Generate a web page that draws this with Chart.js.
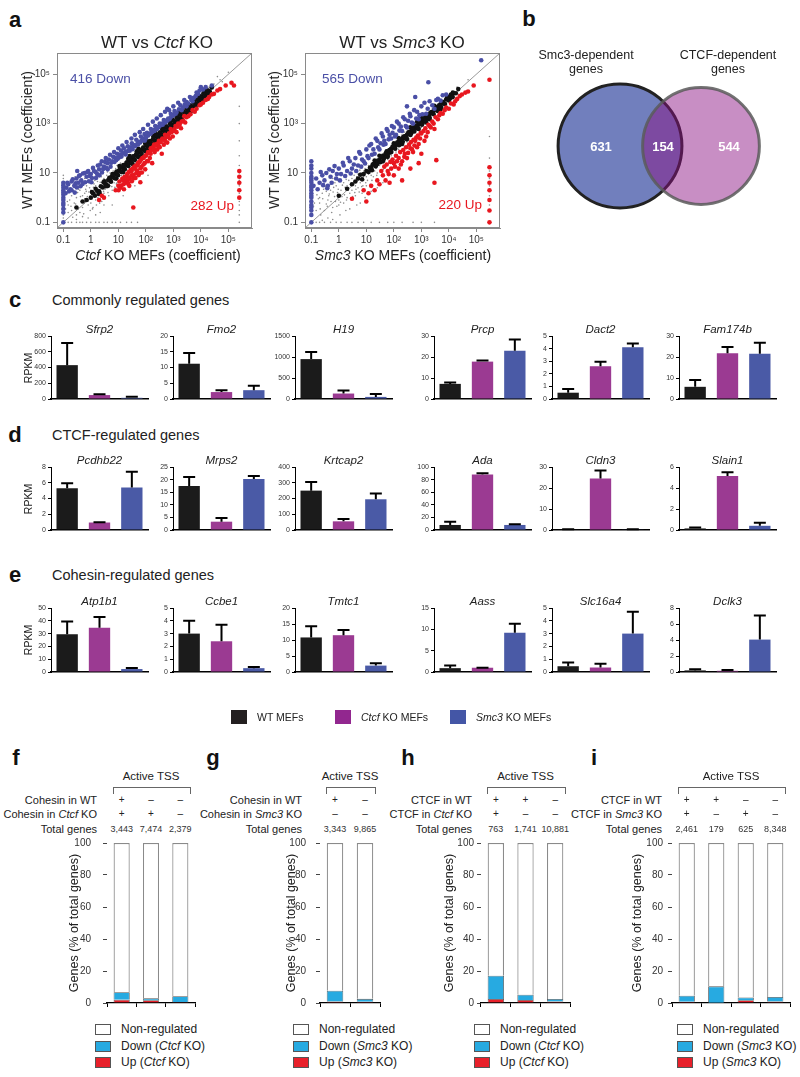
<!DOCTYPE html>
<html><head><meta charset="utf-8">
<script src="https://cdn.jsdelivr.net/npm/chart.js@4/dist/chart.umd.min.js"></script>
<style>
body{margin:0;width:800px;height:1077px;position:relative;background:#fff;font-family:"Liberation Sans",Arial,sans-serif;color:#222;overflow:hidden}
.t{position:absolute;white-space:nowrap;line-height:1}
.c{transform:translate(-50%,-50%)}
.r{transform:translate(-100%,-50%)}
.l{transform:translate(0,-50%)}
.v{transform:translate(-50%,-50%) rotate(-90deg)}
canvas{position:absolute}
.pl{font-weight:bold;font-size:22px;color:#111}
.box{position:absolute}
</style></head><body>
<script>
// ---------------- DATA ----------------
// panel a: scatter (x = KO coefficient, y = WT coefficient)
const axisMin = 0.0589, axisMax = 724000;
const xTickVals = [0.1,1,10,100,1000,10000,100000];
const xTickLabels = ['0.1','1','10','10²','10³','10⁴','10⁵'];
const yTickVals = [0.1,10,1000,100000];
const yTickLabels = ['0.1','10','10³','10⁵'];

const ctcfDown = [[0.1,0.1],[0.1,0.25],[0.1,0.35],[0.1,0.5],[0.1,0.6],[0.1,0.8],[0.1,1],[0.1,1.3],[0.1,1.6],[0.1,2],[0.1,2.5],[0.1,3.2],[0.1,4],
[0.12,1.5],[0.13,2.5],[0.14,4],[0.15,3.5],[0.16,1.8],[0.18,2.2],[0.2,4.5],[0.2,2],[0.22,5.5],[0.25,3],[0.26,1.6],[0.28,3.8],[0.3,6],[0.31,2.6],[0.32,12],[0.35,4],[0.37,7.5],[0.4,8],[0.42,2.9],[0.45,5],[0.5,3.6],[0.52,9.5],[0.6,10],[0.62,4.2],[0.7,7],[0.75,11],[0.8,12],[0.85,4.6],[0.9,7.5],
[1,9],[1.05,4.2],[1.1,6.2],[1.2,16],[1.3,12],[1.5,11],[1.55,6.3],[1.7,9],[1.8,20],[2,14],[2.05,8],[2.2,22],[2.5,30],[2.55,10.5],[2.8,14.5],[3,18],[3.3,28],[3.6,16],[3.5,40],[4,25],[4.1,14],[4.5,35],[5,55],[5.2,18],[5.5,26],[6,30],[6.5,45],[7,70],[7.2,28],[8,40],[8.3,33],[9,60],[9.5,38],
[10,100],[10.5,42],[11,55],[12,50],[12.5,80],[13,46],[14,130],[15,62],[16,100],[18,70],[18.5,56],[20,180],[21,76],[22,120],[25,90],[26,80],[28,110],[30,250],[31,160],[33,92],[35,120],[37,135],[40,350],[41,122],[45,220],[50,160],[52,143],[55,185],[60,450],[62,172],[66,300],[70,200],[75,225],[80,600],[82,250],[90,380],[92,205],[100,300],[102,265],
[110,420],[120,900],[122,330],[140,385],[150,400],[152,600],[170,455],[180,1200],[200,550],[205,505],[220,800],[250,1600],[255,610],[280,700],[300,750],[320,1000],[350,2200],[355,860],[400,1000],[410,905],[450,1400],[500,3000],[505,1110],[550,1300],[600,4000],[605,1320],[650,1600],[700,3500],[720,1500],[800,1800],[810,2500],[900,2050],[1000,5000],[1010,2200],
[1100,3200],[1200,2500],[1300,2800],[1500,7000],[1600,3800],[1800,5500],[2000,3500],[2200,4500],[2500,9000],[2600,6000],[3000,5000],[3050,7500],[3500,6500],[4000,12000],[4500,9000],[5000,8000],[5500,11000],[6500,13000],[7000,18000],[8000,16000],[9000,22000],[10000,30000],[12000,24000],[15000,30000],[25000,35000]];
const ctcfUp = [[2,0.8],[2.5,1.2],[3,1],[35,0.4],[8,2],[10,3],[10.2,2],[11,4.5],[12,2.5],[13,3.1],[14,6],[15,5],[15.5,3.5],[16,2.2],[17,7],[18,4],[19,4.8],[20,7],[21,9],[22,5],[23,3.6],[24,11],[25,3],[26,6.2],[28,13],[30,8],[30.5,12],[31,4.6],[33,15],[35,6],[36,8.2],[38,18],[40,15],[42,6.3],[44,20],[45,10],[48,12.5],[50,20],[52,25],[55,8.2],[58,28],[60,10],[60.5,30],[63,4.2],[64,15.5],[68,35],[70,18],[72,10.5],[75,40],[80,40.5],[82,22],[88,45],[90,25],[95,14],[100,50],[105,55],[110,30.5],[120,30],[121,70],[130,65],[140,40],[150,60],[151,100],[160,85],[170,25],[180,110],[200,90],[201,140],[210,70],[230,130],[250,150],[260,90],[280,160],[300,120],[301,200],[320,110],[350,180],[380,60],[400,250],[420,230],[450,140],[500,200],[501,350],[550,280],[600,170],[650,330],[700,400],[750,250],[800,600],[850,450],[950,300],[1000,500],[1100,600],[1200,800],[1300,450],[1400,750],[1500,1000],[1700,900],[1900,650],[2000,1200],[2300,1300],[2500,2000],[2700,1100],[3000,1800],[3500,2000],[4200,2400],[5000,3500],[6000,3000],[7000,4000],[9000,5500],[10000,6000],[12000,7000],[15000,9000],[18000,10000],[20000,12000],[25000,15000],[30000,16000],[40000,22000],[50000,25000],[80000,35000],[130000,45000],[160000,35000],
[250000,12],[250000,7],[250000,4],[250000,2],[250000,1]];
const ctcfMid = [[0.3,0.4],[0.5,0.7],[0.7,0.8],[1,1],[1.2,1.5],[1.4,1.2],[1.7,1.9],[2,1.8],[2.3,2.9],[2.7,2.6],[3.2,3.9],[3.7,3.4],[4.3,5.2],[5,5],[5.8,7],[6.7,6.5],[7.8,9.3],[9,8.8],[10.5,12.5],[12,11.5],[14,17],[16,15.5],[18.5,22],[21,20],[24,29],[28,27],[32,39],[37,36],[43,52],[50,48],[58,70],[67,65],[78,94],[90,88],[105,126],[120,117],[140,168],[160,155],[185,222],[210,205],[245,295],[280,272],[325,390],[370,360],[430,515],[500,485],[580,700],[670,650],[780,935],[900,875],[1050,1260],[1200,1170],[1400,1680],[1600,1560],[1850,2220],[2100,2050],[2450,2940],[2800,2720],[3250,3900],[3700,3600],[4300,5160],[5000,4850],[5800,6960],[6700,6500],[7800,9360],[9000,8750],[10500,12600],[12000,11700],[14000,16800],[16000,15500],[18500,22000],[21000,20500],[25000,29000],
[1.5,2.3],[3.1,4.6],[6.2,9.1],[11,19],[23,38],[47,75],[95,155],[190,310],[390,620],[760,1250],[1550,2500],[3100,5000],[6300,9800],[2.1,1.5],[4.2,3],[8.3,5.9],[15,11],[33,23],[62,44],[130,92],[250,178],[520,370],[1020,730],[2000,1450],[4150,2900],[8100,5800],
[26,48],[54,96],[110,190],[230,400],[450,790],[880,1500],[1800,3100],[3500,6100],[7000,11500],[14000,21000],
[1.1,1.7],[1.9,1.4],[2.9,4.2],[3.5,2.9],[4.7,6.4],[5.4,4.4],[6.3,8.7],[7.3,6.1],[8.6,11.5],[9.8,8],[11.6,15.8],[13.2,10.9],[15.2,21],[17.3,14.1],[20.4,27],[23.1,19.3],[26.7,36],[30.2,25.4],[35.4,47],[39.8,33.5],[46,62],[53,43.6],[61,84],[70.5,58],[80,108],[93.5,77],[107,147],[124,101],[141,195],[163,134],[187,255],[217,180],[249,336],[286,235],[327,448],[378,312],[433,592],[498,416],[573,778],[662,547],[757,1035],[871,727],[1006,1362],[1152,961],[1331,1803],[1524,1270],[1758,2385],[2017,1680],[2326,3155],[2668,2222],[3069,4183],[3536,2929],[4066,5520],[4669,3885],[5370,7311],[6183,5126],[7102,9668],[8176,6779],[9401,12775],[10790,8975],[12420,16880],[14280,11910],[16430,22310],[18870,15690]];
const ctcfFaint = [[0.15,0.1],[0.2,0.1],[0.3,0.1],[0.4,0.1],[0.5,0.1],[0.7,0.1],[1,0.1],[1.5,0.1],[2,0.1],[3,0.1],[4,0.1],[6,0.1],[8,0.1],[12,0.1],[20,0.1],[30,0.1],[50,0.1],
[0.1,0.15],[0.1,0.2],[0.1,0.3],[0.1,0.45],[0.1,0.7],[0.1,1.1],[0.1,1.8],[0.1,2.8],[0.1,4.5],[0.1,6],[0.1,8],
[250000,0.1],[250000,0.2],[250000,0.3],[250000,0.5],[250000,0.7],[250000,1.5],[250000,3],[250000,5],[250000,10],[250000,20],[250000,50],[250000,200],[250000,1000],[250000,5000],
[0.2,0.3],[0.3,0.2],[0.3,1],[0.5,0.4],[0.6,1.5],[0.8,0.5],[1,2],[1,0.6],[1.5,0.8],[1.5,3],[2,1.5],[3,1.5],[3,6],[4,2.5],[5,3],[5,10],[7,4],[8,15],[10,6],[12,25],[15,9],[20,35],[25,15],[40,60],[50,30],[80,130],[100,70],[200,300],[300,200],[500,700],[800,600],[2000,3000],[5000,4000],[10000,15000],[30000,40000],[50000,60000],[100000,120000],[0.15,0.5],[0.2,1.2],[0.4,2],[0.7,3],[0.25,0.6],[0.4,0.25],[0.6,0.9],[1.2,0.4],[2.5,0.7],[1.8,1],[6,2],[0.5,1.2],[1,0.9],[3,0.5],[9,4],[0.15,0.25],[0.9,2.5],[40000,80000],[60000,50000],
[0.12,0.35],[0.17,0.8],[0.22,0.16],[0.28,0.55],[0.33,1.6],[0.45,0.7],[0.55,0.22],[0.65,2.2],[0.75,1.1],[0.95,0.3],[1.1,1.4],[1.3,3.6],[1.6,0.5],[1.9,2.2],[2.2,4.2],[2.6,1.1],[3.3,2.2],[3.8,8],[4.5,1.2],[5.5,4.4],[6.5,12],[7.5,2.6],[9,20],[11,4.2],[13,8],[17,28],[19,6],[24,45],[30,12],[35,22],[45,80],[60,40],[70,110],[120,90],[150,230],[250,400],[400,300],[700,1000],[1200,900],[1500,2400],[3000,2200],[4000,6000],[7000,9000],[20000,30000],[0.18,4],[0.27,7],[0.36,2.2],[0.6,6],[0.85,1.7],[1.4,5],[2.4,7],[4,11],[0.3,0.13],[0.8,0.15],[2.2,0.25],[6,0.5],[15,1.2],[40,3],[120,8],[0.5,0.17],[1.5,0.2],
[0.14,0.7],[0.19,0.45],[0.24,1.9],[0.35,0.35],[0.42,1.1],[0.48,3],[0.58,0.6],[0.68,1.8],[0.82,0.75],[0.92,4],[1.15,0.35],[1.25,2.6],[1.45,1.6],[1.75,4.5],[2.1,0.6],[2.4,3],[2.9,1.8],[3.5,5],[4.2,1.6],[4.8,7.5],[5.8,2.8],[7,11],[8.5,3.6],[10,17],[12,5.5],[14,22],[17,9.5],[22,30],[28,18],[33,55],[42,26],[55,90],[65,48],[90,150],[110,95],[180,290],[220,160],[350,560],[450,360],[900,1400],[1800,1400],[2500,4000],[6000,5200],[12000,18000]];

const smc3Down = [[0.1,0.1],[0.1,0.3],[0.1,0.5],[0.1,0.7],[0.1,1],[0.1,1.5],[0.1,2],[0.1,3],[0.1,4],[0.1,5],[0.1,7],[0.1,10],[0.1,15],[0.1,30],[0.1,0.2],[0.1,0.4],[0.1,1.2],[0.1,2.5],[0.1,6],[0.1,20],
[0.12,3],[0.15,6],[0.17,2.2],[0.2,4],[0.22,11],[0.25,8],[0.27,3.2],[0.3,5],[0.35,10],[0.38,2.4],[0.4,3],[0.45,14],[0.5,7],[0.55,4],[0.6,12],[0.7,19],[0.8,6],[0.85,9],[1,15],[1.1,5],[1.2,9],[1.4,26],[1.5,20],[1.7,7.5],[2,12],[2.2,40],[2.5,30],[2.7,9.5],[3,15],[3.5,22],[4,40],[4.3,12],[5,20],[5.5,70],[6,60],[6.5,18],[7,35],[8,30],[9,24],[10,90],[11,48],[12,40],[13,130],[15,150],[16,55],[18,90],[20,60],[22,250],[25,200],[27,110],[30,90],[33,160],[36,400],[40,300],[42,140],[45,200],[50,150],[55,600],[60,500],[65,230],[70,350],[80,250],[85,800],[90,420],[100,700],[110,300],[120,350],[130,1200],[150,1000],[160,520],[180,750],[200,500],[220,1800],[250,1500],[270,800],[300,700],[300,5000],[330,1300],[380,2500],[400,2000],[450,1100],[500,1000],[550,3500],[600,12000],[650,1600],[700,3000],[800,1500],[850,2200],[1000,5000],[1100,2400],[1300,7000],[1500,2500],[1700,4000],[1800,47000],[2000,8000],[2500,5500],[3000,4000],[3500,9000],[4000,10000],[5000,8500],[6000,14000],[8000,15000],[150000,370000]];
const smc3Up = [[3,0.9],[10,0.7],[8,2],[12,1.5],[15,3],[20,2],[25,5],[30,3.5],[40,8],[50,5],[60,12],[70,4],[80,15],[100,8],[100,25],[150,15],[150,40],[200,5],[200,30],[250,60],[300,40],[400,15],[400,100],[500,70],[600,200],[800,25],[800,150],[1000,60],[1000,400],[1500,300],[2000,800],[3000,4],[3500,33],[3000,600],[4000,1500],[6000,2500],[10000,4000],[15000,6000],[20000,10000],[30000,15000],[50000,20000],[80000,35000],[300000,60000],
[35,12],[45,18],[55,22],[65,9],[75,28],[90,35],[110,18],[120,50],[130,30],[170,70],[180,22],[220,85],[240,45],[280,110],[330,65],[360,140],[420,180],[460,90],[520,220],[560,130],[650,270],[700,110],[750,330],[900,250],[950,420],[1200,500],[1300,200],[1400,650],[1700,450],[1800,900],[2200,700],[2500,1200],[2800,1000],[3300,1800],[4500,2200],[5000,2700],[7000,3500],[8000,4500],[12000,6500],[17000,8000],[25000,13000],[40000,18000],
[300000,17],[300000,8],[300000,4],[300000,2],[300000,0.8],[300000,0.3],[300000,0.1]];
const smc3Mid = [[1,1.2],[2,2.3],[3,3.5],[5,6],[8,9],[10,12],[15,17],[20,24],[30,33],[40,48],[50,58],[60,72],[80,95],[100,120],[120,140],[150,180],[200,240],[250,300],[300,350],[400,480],[500,580],[600,720],[800,950],[1000,1200],[1200,1450],[1500,1800],[2000,2400],[2500,3000],[3000,3600],[4000,4800],[5000,6000],[6000,7500],[8000,9500],[10000,12000],[12000,15000],[15000,17000],
[30,50],[60,45],[150,260],[300,230],[700,1200],[1500,1100],[3000,5200],[5000,3800],[100,160],[200,150],[20,32],[40,30],[1000,1700],[2000,1500],[400,700],[800,600],
[12,11],[17,22],[25,23],[35,45],[45,42],[55,75],[70,66],[90,118],[110,102],[135,175],[170,160],[220,285],[270,255],[340,440],[430,405],[540,700],[680,640],[860,1110],[1080,1020],[1350,1750],[1700,1600],[2150,2780],[2700,2550],[3400,4400],[4300,4050],[5400,7000],[6800,6400],[8600,11000],[11000,10500],[14000,18000],[18000,17000],[22000,25000],[7,5.5],[6,8.5],[4,4.5],
[13.5,16],[16,13],[18.5,23],[22,18.5],[26.5,32],[32,27],[37,44],[43,37],[51,62],[59,51],[69,84],[81,70],[95,116],[112,96],[131,160],[154,132],[181,221],[212,182],[249,304],[292,251],[343,419],[403,346],[473,577],[555,477],[652,796],[766,658],[899,1097],[1056,907],[1240,1513],[1456,1251],[1710,2086],[2008,1725],[2358,2877],[2769,2378],[3252,3967],[3819,3280],[4485,5472],[5266,4523],[6184,7544],[7262,6236],[8528,10400],[10015,8600],[11760,14350],[13810,11860]];
const smc3Faint = [[0.15,0.1],[0.2,0.1],[0.3,0.1],[0.5,0.1],[0.8,0.1],[1.2,0.1],[2,0.1],[3,0.1],[5,0.1],[8,0.1],[15,0.1],[30,0.1],[60,0.1],[100,0.1],[200,0.1],[500,0.1],[1000,0.1],[3000,0.1],
[0.1,0.2],[0.1,0.4],[0.1,0.6],[0.1,1.2],[0.1,2.5],[300000,0.5],[300000,1.2],[300000,3],[300000,6],[300000,12],[300000,40],[300000,300],
[0.15,0.3],[0.2,0.6],[0.25,1.5],[0.3,0.3],[0.4,0.8],[0.5,2],[0.6,0.4],[0.7,1.1],[0.8,3],[1,0.5],[1,0.8],[1.2,2],[1.5,0.6],[1.5,4],[2,1],[2,3],[2.5,1.5],[3,6],[3,2],[4,1.2],[4,3],[5,9],[5,2.5],[6,4],[7,1.5],[8,12],[8,5],[10,3],[10,7],[12,20],[15,8],[20,12],[20,30],[25,10],[30,20],[40,25],[50,80],[60,35],[80,50],[100,180],[150,90],[200,350],[300,180],[500,800],[1000,700],[2000,3000],[5000,8000],[10000,8000],[20000,30000],[50000,60000],[0.3,3],[0.6,6],[1.8,0.3],[6,0.6],[15,1.8],[40,4],
[0.12,0.45],[0.18,0.9],[0.22,0.2],[0.28,2.2],[0.35,0.55],[0.45,1.4],[0.55,0.25],[0.65,2.6],[0.75,0.7],[0.9,1.6],[1.1,4.5],[1.3,1.1],[1.7,2.6],[1.9,0.8],[2.3,5],[2.8,0.9],[3.4,4],[3.8,1.6],[4.5,7],[5.5,1.7],[6.5,10],[7.5,3],[9,15],[11,5],[13,11],[14,3.5],[17,25],[18,7],[23,16],[28,45],[33,12],[38,60],[45,18],[55,40],[70,100],[90,30],[120,70],[130,250],[180,120],[250,450],[350,250],[600,1000],[900,500],[1500,2500],[3000,2000],[4000,6000],[8000,12000],[0.2,1],[0.35,1.8],[0.5,3.5],[0.9,5],[1.6,7],[2.6,9],[0.4,0.15],[1.1,0.2],[2.5,0.35],[4.5,0.5],[9,1],[25,2.5],[0.25,0.12],[0.6,0.13],
[0.13,0.6],[0.16,1.3],[0.21,0.35],[0.26,0.9],[0.32,2.8],[0.38,0.45],[0.43,1.2],[0.52,0.7],[0.62,1.7],[0.72,4],[0.85,0.45],[0.95,2.2],[1.15,0.65],[1.35,3.2],[1.6,1.3],[1.85,5.5],[2.2,2],[2.7,3.5],[3.2,1.1],[3.6,8],[4.2,2.2],[5,5.5],[5.8,13],[6.8,2.8],[8,7],[9.5,4],[12,9],[14.5,14],[16,5],[19,18],[24,8],[27,22],[35,30],[42,14],[50,50],[65,25],[85,75],[110,45],[160,150],[240,120],[450,400],[700,350],[1300,1200],[2500,4000],[6000,5000]];

// panel b: Venn
const vennSets = ['Smc3-dependent genes','CTCF-dependent genes'];
const vennCounts = [631,154,544];   // Smc3 only, both, CTCF only

// panels c-e: RPKM
const groups = ['WT MEFs','Ctcf KO MEFs','Smc3 KO MEFs'];
const cGenes = ['Sfrp2','Fmo2','H19','Prcp','Dact2','Fam174b'];
const cMean = [[430,50,15],[11.2,2.2,2.8],[950,130,50],[7.2,17.8,23],[0.5,2.6,4.1],[5.8,21.8,21.5]];
const cErrTop = [[710,60,30],[14.6,2.8,4.2],[1120,200,120],[7.8,18.3,28.3],[0.8,2.95,4.4],[9,24.8,26.8]];
const cMax = [800,20,1500,30,5,30];
const cStep = [200,5,500,10,1,10];

const dGenes = ['Pcdhb22','Mrps2','Krtcap2','Ada','Cldn3','Slain1'];
const dMean = [[5.3,0.95,5.4],[17.5,3.3,20.2],[250,55,195],[8,88,8],[0.3,24.5,0.2],[0.15,5.15,0.4]];
const dErrTop = [[5.95,1.0,7.4],[21,4.8,21.4],[305,70,232],[13,90,9],[0.4,28.3,0.3],[0.25,5.5,0.7]];
const dMax = [8,25,400,100,30,6];
const dStep = [2,5,100,20,10,2];

const eGenes = ['Atp1b1','Ccbe1','Tmtc1','Aass','Slc16a4','Dclk3'];
const eMean = [[29.5,34.5,2.3],[3.0,2.4,0.3],[10.8,11.5,2.0],[0.9,1.0,9.2],[0.45,0.35,3.0],[0.2,0.15,4.05]];
const eErrTop = [[39.5,43,3.2],[4.0,3.7,0.4],[14.3,13.1,2.7],[1.5,1.0,11.3],[0.75,0.65,4.7],[0.35,0.25,7.05]];
const eMax = [50,5,20,15,5,8];
const eStep = [10,1,5,5,1,2];

// panels f-i: % of total genes
const fRow1 = ['+','–','–'], fRow2 = ['+','+','–'], fTotals = ['3,443','7,474','2,379'];
const fUp = [2.1,1.7,0.6], fDown = [4.6,1.2,3.6], fNon = [93.3,97.1,95.8];
const gRow1 = ['+','–'], gRow2 = ['–','–'], gTotals = ['3,343','9,865'];
const gUp = [1.0,0.8], gDown = [6.7,1.8], gNon = [92.3,97.4];
const hRow1 = ['+','+','–'], hRow2 = ['+','–','–'], hTotals = ['763','1,741','10,881'];
const hUp = [2.5,1.9,1.0], hDown = [14.6,3.3,1.5], hNon = [82.9,94.8,97.5];
const iRow1 = ['+','+','–','–'], iRow2 = ['+','–','+','–'], iTotals = ['2,461','179','625','8,348'];
const iUp = [0.8,0.2,1.7,1.0], iDown = [3.8,10.2,1.8,2.75], iNon = [95.4,89.6,96.5,96.25];

// ---------------- HELPERS ----------------
Chart.defaults.font.family = '"Liberation Sans", Arial, sans-serif';
Chart.defaults.devicePixelRatio = 1;
Chart.defaults.animation = false;
Chart.defaults.responsive = false;
Chart.defaults.layout.autoPadding = false;
Chart.defaults.plugins.legend.display = false;
Chart.defaults.plugins.tooltip.enabled = false;

function T(html,x,y,cls,css){const d=document.createElement('div');d.className='t '+cls;d.innerHTML=html;d.style.left=x+'px';d.style.top=y+'px';if(css)d.style.cssText+=css;document.body.appendChild(d);return d;}
function mk(x,y,w,h){const c=document.createElement('canvas');c.width=w;c.height=h;c.style.left=x+'px';c.style.top=y+'px';c.style.width=w+'px';c.style.height=h+'px';document.body.appendChild(c);return c;}
const pts = a => a.map(p=>({x:p[0],y:p[1]}));
const fixV = w => s => {s.width=w;s.paddingTop=0;s.paddingBottom=0;};
const fixH = h => s => {s.height=h;s.paddingLeft=0;s.paddingRight=0;};

// ---------------- PANEL LABELS ----------------
T('a',15,20,'c pl');T('b',529,19,'c pl');T('c',15,300,'c pl');T('d',15,435,'c pl');T('e',15,575,'c pl');
T('f',16,758,'c pl');T('g',213,758,'c pl');T('h',408,758,'c pl');T('i',594,758,'c pl');

// ---------------- PANEL a ----------------
const boxPlugin = {id:'box',afterDraw(ch){const a=ch.chartArea,ctx=ch.ctx;ctx.save();ctx.strokeStyle='#8a8a8a';ctx.lineWidth=1;ctx.strokeRect(a.left+0.5,a.top+0.5,a.right-a.left-1,a.bottom-a.top-1);ctx.restore();}};
function scatter(left, down, up, mid, faint){
  const cv = mk(left,45,262,225);
  new Chart(cv,{type:'scatter',data:{datasets:[
    {type:'line',data:[{x:axisMin,y:axisMin},{x:axisMax,y:axisMax}],borderColor:'#9a9a9a',borderWidth:1,pointRadius:0,order:5},
    {data:pts(faint),pointRadius:0.8,backgroundColor:'#8c8c8c',borderWidth:0,order:4},
    {data:pts(mid),pointRadius:2.3,backgroundColor:'#111',borderWidth:0,order:3},
    {data:pts(down),pointRadius:2.3,backgroundColor:'#4a4fa6',borderWidth:0,order:2},
    {data:pts(up),pointRadius:2.3,backgroundColor:'#e8171f',borderWidth:0,order:1}
  ]},options:{layout:{padding:{top:8,right:10,left:0,bottom:0}},
    scales:{
      x:{type:'logarithmic',min:axisMin,max:axisMax,afterBuildTicks(s){s.ticks=xTickVals.map(v=>({value:v}));},
         ticks:{autoSkip:false,maxRotation:0,font:{size:10},color:'#333',padding:2,callback:(v,i)=>xTickLabels[i]},
         grid:{drawOnChartArea:false,tickLength:4,color:'#888'},border:{color:'#8a8a8a'},afterFit:fixH(42)},
      y:{type:'logarithmic',min:axisMin,max:axisMax,afterBuildTicks(s){s.ticks=yTickVals.map(v=>({value:v}));},
         ticks:{autoSkip:false,font:{size:10},color:'#333',padding:3,callback:(v,i)=>yTickLabels[i]},
         grid:{drawOnChartArea:false,tickLength:4,color:'#888'},border:{color:'#8a8a8a'},afterFit:fixV(57)}
    }},plugins:[boxPlugin]});
}
scatter(0,ctcfDown,ctcfUp,ctcfMid,ctcfFaint);
scatter(248,smc3Down,smc3Up,smc3Mid,smc3Faint);
T('WT vs <i>Ctcf</i> KO',157,42,'c','font-size:17px');
T('WT vs <i>Smc3</i> KO',402,42,'c','font-size:17px');
T('WT MEFs (coefficient)',27,140,'v','font-size:14px');
T('WT MEFs (coefficient)',274,140,'v','font-size:14px');
T('<i>Ctcf</i> KO MEFs (coefficient)',158,255,'c','font-size:14px');
T('<i>Smc3</i> KO MEFs (coefficient)',403,255,'c','font-size:14px');
T('416 Down',70,79,'l','font-size:13.5px;color:#4a4fa6');
T('282 Up',234,206,'r','font-size:13.5px;color:#e8171f');
T('565 Down',322,79,'l','font-size:13.5px;color:#4a4fa6');
T('220 Up',482,205,'r','font-size:13.5px;color:#e8171f');

// ---------------- PANEL b ----------------
(function(){
  const cv = mk(540,73,250,146);
  const tot = [vennCounts[0]+vennCounts[1], vennCounts[1]+vennCounts[2]];
  const k = 2.21;
  new Chart(cv,{type:'bubble',data:{datasets:[
    {data:[{x:0,y:0,r:k*Math.sqrt(tot[0])}],backgroundColor:'#717fbd',borderColor:'#222',borderWidth:3,clip:false,order:2},
    {data:[{x:1,y:0,r:k*Math.sqrt(tot[1])}],backgroundColor:'rgba(138,15,130,0.47)',borderColor:'rgba(90,90,90,0.85)',borderWidth:3,clip:false,order:1}
  ]},options:{layout:{padding:0},scales:{x:{display:false,min:-0.988,max:2.099},y:{display:false,min:-1,max:1}}}});
  T('Smc3-dependent<br>genes',586,62,'c','font-size:12.5px;text-align:center;line-height:14px');
  T('CTCF-dependent<br>genes',728,62,'c','font-size:12.5px;text-align:center;line-height:14px');
  T(String(vennCounts[0]),601,146,'c','font-size:13px;font-weight:bold;color:#fff');
  T(String(vennCounts[1]),663,146,'c','font-size:13px;font-weight:bold;color:#fff');
  T(String(vennCounts[2]),729,146,'c','font-size:13px;font-weight:bold;color:#fff');
})();

// ---------------- PANELS c-e ----------------
const barColors = ['#1b1b1b','#9b3a92','#4a5aa6'];
const errPlugin = {id:'err',afterDatasetsDraw(ch){const ctx=ch.ctx,ds=ch.data.datasets[0],meta=ch.getDatasetMeta(0),y=ch.scales.y;
  ctx.save();ctx.strokeStyle='#000';ctx.lineWidth=2;
  meta.data.forEach((b,i)=>{const y0=y.getPixelForValue(ds.data[i]),y1=y.getPixelForValue(ds.errTop[i]);
    ctx.beginPath();ctx.moveTo(b.x,y0);ctx.lineTo(b.x,y1);ctx.moveTo(b.x-6,y1);ctx.lineTo(b.x+6,y1);ctx.stroke();});
  ctx.restore();}};
const chartLefts = [51,173,295,434,552,679];
const chartW = 97;
function barRow(top, base, genes, means, errs, maxs, steps){
  const padL=32,padT=6,padB=6;
  genes.forEach((g,j)=>{
    const L = chartLefts[j];
    const cv = mk(L-padL, top-padT, padL+chartW+3, base-top+padT+padB);
    new Chart(cv,{type:'bar',data:{labels:groups,datasets:[{data:means[j],errTop:errs[j],backgroundColor:barColors,borderWidth:0,barPercentage:0.66,categoryPercentage:1}]},
      options:{layout:{padding:{top:padT,right:3,left:0,bottom:0}},
        scales:{x:{grid:{display:false},ticks:{display:false},border:{color:'#000',width:1.6},afterFit:fixH(padB)},
                y:{min:0,max:maxs[j],ticks:{stepSize:steps[j],font:{size:7},color:'#333',padding:2,callback:v=>String(v)},grid:{drawOnChartArea:false,tickLength:3,color:'#000'},border:{color:'#000',width:1},afterFit:fixV(padL)}}},
      plugins:[errPlugin]});
    T('<i>'+g+'</i>', L+chartW/2, top-6, 'c', 'font-size:11.5px');
  });
  T('RPKM',28,(top+base)/2,'v','font-size:10.5px');
}
T('Commonly regulated genes',52,300,'l','font-size:14.5px');
T('CTCF-regulated genes',52,435,'l','font-size:14.5px');
T('Cohesin-regulated genes',52,575,'l','font-size:14.5px');
barRow(336,399,cGenes,cMean,cErrTop,cMax,cStep);
barRow(467,530,dGenes,dMean,dErrTop,dMax,dStep);
barRow(608,672,eGenes,eMean,eErrTop,eMax,eStep);

// legend row
[[231,'WT MEFs'],[335,'<i>Ctcf</i> KO MEFs'],[450,'<i>Smc3</i> KO MEFs']].forEach((it,i)=>{
  const b=document.createElement('div');b.className='box';b.style.cssText=`left:${it[0]}px;top:710px;width:16px;height:14px;background:${['#231f20','#92278f','#4456a6'][i]}`;document.body.appendChild(b);
  T(it[1],it[0]+26,717,'l','font-size:10.5px');
});

// ---------------- PANELS f-i ----------------
function stackPanel(areaL, areaR, labelsR, rowNames, row1, row2, totals, up, down, non, pad, titleX){
  const yW=40, top=835, padT=8, xH=7;
  const cvL = areaL-yW;
  const cv = mk(cvL, top, yW+(areaR-areaL)+3, 1003-top+xH);
  const ch = new Chart(cv,{type:'bar',data:{labels:totals,datasets:[
      {label:'Up',data:up,backgroundColor:'#e8202a',borderColor:'#555',borderWidth:0.8,barPercentage:0.55,categoryPercentage:1},
      {label:'Down',data:down,backgroundColor:'#27aae1',borderColor:'#555',borderWidth:0.8,barPercentage:0.55,categoryPercentage:1},
      {label:'Non-regulated',data:non,backgroundColor:'#fff',borderColor:'#8a8a8a',borderWidth:1.2,barPercentage:0.55,categoryPercentage:1}]},
    options:{layout:{padding:{top:padT,right:3,left:0,bottom:0}},
      scales:{x:{stacked:true,ticks:{display:false},grid:{drawOnChartArea:false,tickLength:4,color:'#000',offset:true},border:{color:'#000',width:1.3},afterFit:fixH(xH)},
              y:{stacked:true,min:0,max:100,ticks:{stepSize:20,font:{size:10},color:'#333',padding:pad},grid:{drawOnChartArea:false,tickLength:4,color:'#444'},border:{display:false},afterFit:fixV(yW)}}}});
  const xs = totals.map((t,i)=>cvL+ch.scales.x.getPixelForValue(i));
  const bl = xs[0]-9, br = xs[xs.length-1]+9;
  T('Active TSS',(bl+br)/2,777,'c','font-size:11.5px');
  const br2=document.createElement('div');br2.className='box';br2.style.cssText=`left:${bl}px;top:787px;width:${br-bl}px;height:6px;border:1px solid #666;border-bottom:none`;document.body.appendChild(br2);
  T(rowNames[0],labelsR,800,'r','font-size:11px');
  T(rowNames[1],labelsR,814,'r','font-size:11px');
  T('Total genes',labelsR,829,'r','font-size:11px');
  xs.forEach((x,i)=>{T(row1[i],x,800,'c','font-size:10px');T(row2[i],x,814,'c','font-size:10px');T(totals[i],x,829,'c','font-size:9px;color:#333');});
  T('Genes (% of total genes)',titleX,923,'v','font-size:12.5px');
}
stackPanel(107,195,97,['Cohesin in WT','Cohesin in <i>Ctcf</i> KO'],fRow1,fRow2,fTotals,fUp,fDown,fNon,12,74);
stackPanel(320,380,302,['Cohesin in WT','Cohesin in <i>Smc3</i> KO'],gRow1,gRow2,gTotals,gUp,gDown,gNon,10,291);
stackPanel(481,570,472,['CTCF in WT','CTCF in <i>Ctcf</i> KO'],hRow1,hRow2,hTotals,hUp,hDown,hNon,3,449);
stackPanel(672,790,662,['CTCF in WT','CTCF in <i>Smc3</i> KO'],iRow1,iRow2,iTotals,iUp,iDown,iNon,5,637);

// legends f-i
[[95,'Ctcf'],[293,'Smc3'],[474,'Ctcf'],[677,'Smc3']].forEach(([x,g])=>{
  [['#fff','Non-regulated'],['#27aae1','Down (<i>'+g+'</i> KO)'],['#e8202a','Up (<i>'+g+'</i> KO)']].forEach(([col,txt],k)=>{
    const y=1029+k*16.5;
    const b=document.createElement('div');b.className='box';b.style.cssText=`left:${x}px;top:${y-5}px;width:14px;height:9px;background:${col};border:1px solid #555`;document.body.appendChild(b);
    T(txt,x+26,y,'l','font-size:12px');
  });
});
</script>
</body></html>
